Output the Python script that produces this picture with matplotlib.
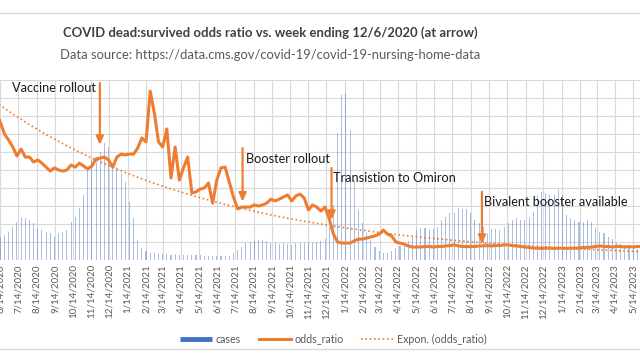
import numpy as np
import pandas as pd
import matplotlib
matplotlib.use("Agg")
import matplotlib.pyplot as plt
import matplotlib.dates as mdates
from matplotlib.lines import Line2D

plt.rcParams['font.family'] = ['Lato', 'DejaVu Sans']
plt.rcParams['savefig.bbox'] = 'standard'

# ---------------- data ----------------
week_ending = pd.date_range('2020-06-07', periods=156, freq='7D')

odds_ratio = [
    0.411, 0.383, 0.350, 0.333, 0.314, 0.289, 0.308, 0.286, 0.286, 0.272, 0.278,
    0.269, 0.258, 0.247, 0.256, 0.250, 0.247, 0.250, 0.264, 0.258, 0.269,
    0.261, 0.253, 0.261, 0.281, 0.283, 0.286, 0.278, 0.258, 0.286, 0.294,
    0.292, 0.294, 0.294, 0.311, 0.339, 0.328, 0.469, 0.408, 0.328, 0.314,
    0.364, 0.228, 0.314, 0.222, 0.256, 0.286, 0.186, 0.189, 0.197, 0.200,
    0.214, 0.158, 0.222, 0.256, 0.258, 0.217, 0.175, 0.142, 0.147, 0.147,
    0.147, 0.153, 0.150, 0.153, 0.158, 0.169, 0.164, 0.169, 0.175, 0.181,
    0.164, 0.178, 0.183, 0.172, 0.139, 0.153, 0.147, 0.136, 0.147, 0.114,
    0.072, 0.050, 0.047, 0.047, 0.047, 0.053, 0.058, 0.058, 0.061, 0.064,
    0.067, 0.072, 0.083, 0.072, 0.067, 0.050, 0.047, 0.044, 0.039, 0.036,
    0.036, 0.036,
    0.0375, 0.0375, 0.036, 0.0375, 0.0375, 0.039, 0.040, 0.042, 0.039, 0.0375,
    0.037, 0.0375, 0.0375, 0.039, 0.039, 0.040, 0.039, 0.040, 0.040, 0.042,
    0.042, 0.040, 0.039, 0.0375, 0.036, 0.035, 0.033, 0.033, 0.032, 0.033,
    0.033, 0.032, 0.033, 0.033, 0.032, 0.033, 0.033, 0.033, 0.035, 0.035,
    0.036, 0.0375, 0.039, 0.0375, 0.0375, 0.036, 0.0375, 0.0375, 0.036, 0.0375,
    0.036, 0.0375, 0.0375,
]

cases = [
    12000,
    13000, 13900, 15700, 18500, 21300, 23700, 23100, 22200, 20700, 17600,
    16700, 15700, 14800, 13000, 14800, 15700, 16700, 21300, 24100, 28700,
    36100, 50000, 55600, 54600, 60200, 64800, 63000, 53700, 51900, 48100,
    43500, 32400, 23100, 11100, 6500, 5200, 4100, 3700, 3300, 3300,
    3100, 3000, 3100, 3000, 3000, 2800, 2800, 2700, 2700, 2500,
    2500, 2400, 2200, 2000, 2000, 2400, 3700, 5600, 7400, 9300,
    10200, 10700, 11100, 11100, 10700, 9600, 9300, 8900, 9300, 8900,
    8500, 9300, 9600, 9600, 9600, 9600, 10200, 10700, 11500, 18500,
    30600, 70400, 91700, 93000, 72000, 44400, 27800, 20400, 14800, 11100,
    7400, 5200, 3700, 4100, 5200, 6500, 7800, 9300, 10700, 13000,
    16700, 17600, 17600, 16700, 17000, 18500, 22200, 24100, 25900, 25900,
    28700, 28100, 28100, 25900, 22200, 20700, 18500, 14800, 17000, 17000,
    16700, 18500, 20700, 22200, 23100, 22200, 22200, 23100, 26900, 36100,
    38000, 37000, 36100, 36100, 38900, 36100, 25000, 23100, 22200, 21300,
    21300, 22200, 21300, 17600, 15700, 14800, 13000, 11500, 9600, 8900,
    8300, 7400, 6500, 6000, 5500,
]

tick_dates = [pd.Timestamp(y, m, 14) for y in (2020, 2021, 2022, 2023)
              for m in range(1, 13)]
tick_dates = [d for d in tick_dates if pd.Timestamp('2020-06-01') <= d <= pd.Timestamp('2023-06-30')]
tick_labels = [f"{d.month}/{d.day}/{d.year}" for d in tick_dates]

# (label, arrow x frac, arrow top, arrow tip, text x, text y)  in axes fractions
annotations = [
    ("Vaccine rollout", 0.156, 0.983, 0.639, 0.019, 0.953),
    ("Booster rollout", 0.379, 0.622, 0.324, 0.384, 0.559),
    ("Transistion to Omiron", 0.518, 0.511, 0.222, 0.521, 0.454),
    ("Bivalent booster available", 0.753, 0.379, 0.089, 0.757, 0.321),
]

TITLE = "COVID dead:survived odds ratio vs. week ending 12/6/2020 (at arrow)"
SUBTITLE = "Data source: https://data.cms.gov/covid-19/covid-19-nursing-home-data"
legend_labels = ['cases', 'odds_ratio', 'Expon. (odds_ratio)']

ORANGE = '#ED7D31'
BLUE = '#4472C4'
GRID = '#d9d9d9'
TXT = '#595959'

fig = plt.figure(figsize=(6.4, 3.6), dpi=100)
renderer = fig.canvas.get_renderer()


def fit_size(text, target_px, base=10.0, **kw):
    t = fig.text(0, 0, text, fontsize=base, **kw)
    w = t.get_window_extent(renderer).width
    t.remove()
    return base * target_px / w


fs_title = fit_size(TITLE, 416, fontweight='bold')
fs_sub = fit_size(SUBTITLE, 420)
fs_ann = fit_size("Bivalent booster available", 144)
fs_tick = fit_size("10/14/2020", 54)
fs_leg = fit_size("Expon. (odds_ratio)", 90)

ax = fig.add_axes([0, 100 / 360, 1, 180 / 360])

left = pd.Timestamp('2020-06-13 12:00')
right = left + pd.Timedelta(days=1076)

ax.bar(week_ending, cases, width=1.8, color=BLUE, alpha=0.45, zorder=2, linewidth=0)
ax.set_ylim(0, 100000)
ax.set_yticks(np.arange(0, 100001, 10000))
ax.set_xlim(left, right)
ax.set_xticks(tick_dates)
ax.set_xticklabels(tick_labels, rotation=90, fontsize=fs_tick, color=TXT)
ax.grid(True, color=GRID, lw=0.8)
ax.set_axisbelow(True)
ax.tick_params(axis='both', length=0, labelleft=False)
ax.tick_params(axis='x', pad=3)
for s in ax.spines.values():
    s.set_visible(False)

ax2 = ax.twinx()
ax2.plot(week_ending, odds_ratio, color=ORANGE, lw=2.2, zorder=3,
         solid_joinstyle='round')
xnum = mdates.date2num(week_ending)
coef = np.polyfit(xnum, np.log(np.array(odds_ratio)), 1)
trend = np.exp(np.polyval(coef, xnum))
ax2.plot(week_ending, trend, color=ORANGE, lw=1.2, linestyle=(0, (1, 1.6)), zorder=3)
ax2.set_ylim(0, 0.5)
ax2.set_xlim(left, right)
ax2.tick_params(axis='both', length=0, labelright=False)
for s in ax2.spines.values():
    s.set_visible(False)

for text, xa, ytop, ytip, tx, ty in annotations:
    ax2.annotate('', xy=(xa, ytip), xytext=(xa, ytop), xycoords='axes fraction',
                 textcoords='axes fraction',
                 arrowprops=dict(arrowstyle='-|>,head_length=0.5,head_width=0.22',
                                 color=ORANGE, lw=1.6, shrinkA=0, shrinkB=0),
                 zorder=4)
    ax2.text(tx, ty, text, transform=ax2.transAxes, ha='left', va='center',
             fontsize=fs_ann, color='#1a1a1a', zorder=5)

fig.text(270 / 640, 1 - 33 / 360, TITLE, ha='center', va='center',
         fontsize=fs_title, fontweight='bold', color='#404040')
fig.text(270 / 640, 1 - 55 / 360, SUBTITLE, ha='center', va='center',
         fontsize=fs_sub, color=TXT)

for yy in (13, 349):
    fig.add_artist(Line2D([0, 1], [1 - yy / 360] * 2, color=GRID, lw=1,
                          transform=fig.transFigure))

px = fs_leg * 100 / 72
handles = [Line2D([], [], color=BLUE, lw=3.5, solid_capstyle='butt'),
           Line2D([], [], color=ORANGE, lw=2.2),
           Line2D([], [], color=ORANGE, lw=1.2, linestyle=(0, (1, 1.6)))]
fig.legend(handles, legend_labels, loc='center',
           bbox_to_anchor=(333.5 / 640, 1 - 339 / 360),
           ncol=3, frameon=False, fontsize=fs_leg, handlelength=32 / px,
           columnspacing=17.5 / px, handletextpad=4 / px, labelcolor=TXT,
           borderpad=0)

fig.savefig('out.png', dpi=100, facecolor='white', bbox_inches=None)
